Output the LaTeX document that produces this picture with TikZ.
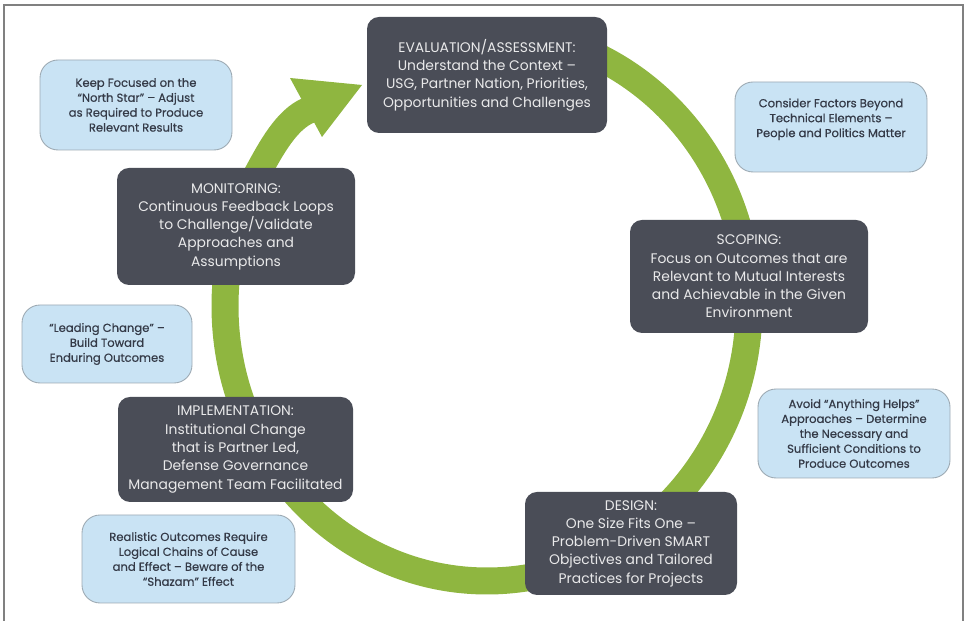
\documentclass[tikz,border=0pt]{standalone}
\usepackage{fontspec}
\setmainfont{Poppins}
\newfontfamily\notefont{Poppins}[FakeBold=0.5]
\definecolor{stagegray}{HTML}{4A4D57}
\definecolor{stagetext}{HTML}{E9E9EA}
\definecolor{noteblue}{HTML}{C9E3F4}
\definecolor{noteline}{HTML}{9DAAB3}
\definecolor{notetext}{HTML}{343A47}
\definecolor{ringgreen}{HTML}{8FB640}
\definecolor{framegray}{HTML}{808080}

\begin{document}
\begin{tikzpicture}[
  stage/.style={fill=stagegray,text=stagetext,rounded corners=0.24cm,align=center,
    font=\fontsize{7.9}{10.4}\selectfont,inner sep=0pt},
  note/.style={fill=noteblue,draw=noteline,line width=0.5pt,text=notetext,rounded corners=0.36cm,
    align=center,font=\notefont\fontsize{6.6}{8.5}\selectfont,inner sep=0pt}]
\useasboundingbox (0,0) rectangle (19.28,12.42);
% frame
\draw[framegray,line width=0.04cm] (0.08,0) -- (0.08,12.32) -- (19.26,12.32) -- (19.26,0);
% green cycle arrow: band, then head
\draw[ringgreen,line width=0.54cm]
  (9.74,6.30) ++(90:5.24 and 5.5) arc[start angle=90,end angle=-210,x radius=5.24,y radius=5.5]
  .. controls (5.49,9.58) and (5.80,10.10) .. (6.24,10.24);
\fill[ringgreen] (5.80,10.86) -- (7.24,10.72) -- (6.44,9.68) -- cycle;
% stages
\node[stage,minimum width=4.8cm,minimum height=2.32cm] (eval) at (9.74,10.92)
  {EVALUATION/ASSESSMENT:\\Understand the Context –\\USG, Partner Nation, Priorities,\\Opportunities and Challenges};
\node[stage,minimum width=4.76cm,minimum height=2.26cm] (scope) at (14.98,6.89)
  {SCOPING:\\Focus on Outcomes that are\\Relevant to Mutual Interests\\and Achievable in the Given\\Environment};
\node[stage,minimum width=4.24cm,minimum height=2.06cm] (design) at (12.62,1.55)
  {DESIGN:\\One Size Fits One –\\Problem-Driven SMART\\Objectives and Tailored\\Practices for Projects};
\node[stage,minimum width=4.7cm,minimum height=2.1cm] (impl) at (4.71,3.43)
  {IMPLEMENTATION:\\Institutional Change\\that is Partner Led,\\Defense Governance\\Management Team Facilitated};
\node[stage,minimum width=4.76cm,minimum height=2.34cm] (monitor) at (4.72,7.89)
  {MONITORING:\\Continuous Feedback Loops\\to Challenge/Validate\\Approaches and\\Assumptions};
% notes
\node[note,minimum width=3.84cm,minimum height=1.8cm] (northstar) at (2.72,10.32)
  {Keep Focused on the\\“North Star” – Adjust\\as Required to Produce\\Relevant Results};
\node[note,minimum width=3.84cm,minimum height=1.8cm] (factors) at (16.62,9.88)
  {Consider Factors Beyond\\Technical Elements –\\People and Politics Matter\\[2pt]};
\node[note,minimum width=3.4cm,minimum height=1.56cm] (leading) at (2.14,5.54)
  {“Leading Change” –\\Build Toward\\Enduring Outcomes};
\node[note,minimum width=4.26cm,minimum height=1.76cm] (realistic) at (3.77,1.24)
  {Realistic Outcomes Require\\Logical Chains of Cause\\and Effect – Beware of the\\“Shazam” Effect};
\node[note,minimum width=3.84cm,minimum height=1.78cm] (avoid) at (17.08,3.75)
  {Avoid “Anything Helps”\\Approaches – Determine\\the Necessary and\\Sufficient Conditions to\\Produce Outcomes};
\end{tikzpicture}
\end{document}
